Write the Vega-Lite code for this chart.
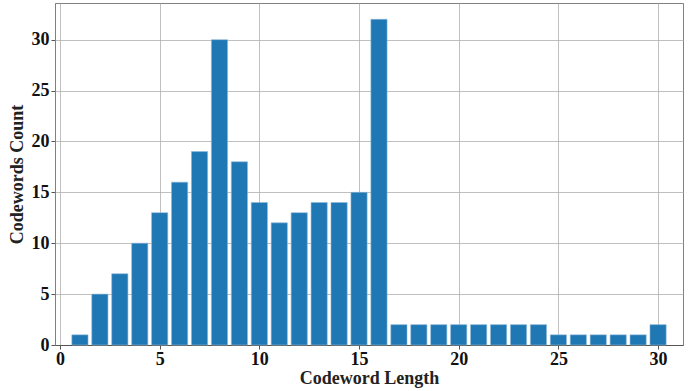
{
  "$schema": "https://vega.github.io/schema/vega-lite/v6.json",
  "width": 628,
  "height": 342,
  "padding": {"left": 55, "top": 3, "right": 16, "bottom": 46},
  "autosize": {"type": "none"},
  "background": "white",
  "config": {
    "view": {"stroke": "#808080", "strokeWidth": 1},
    "font": "Liberation Serif"
  },
  "data": {"values": [
    {"length": 1, "count": 1}, {"length": 2, "count": 5}, {"length": 3, "count": 7},
    {"length": 4, "count": 10}, {"length": 5, "count": 13}, {"length": 6, "count": 16},
    {"length": 7, "count": 19}, {"length": 8, "count": 30}, {"length": 9, "count": 18},
    {"length": 10, "count": 14}, {"length": 11, "count": 12}, {"length": 12, "count": 13},
    {"length": 13, "count": 14}, {"length": 14, "count": 14}, {"length": 15, "count": 15},
    {"length": 16, "count": 32}, {"length": 17, "count": 2}, {"length": 18, "count": 2},
    {"length": 19, "count": 2}, {"length": 20, "count": 2}, {"length": 21, "count": 2},
    {"length": 22, "count": 2}, {"length": 23, "count": 2}, {"length": 24, "count": 2},
    {"length": 25, "count": 1}, {"length": 26, "count": 1}, {"length": 27, "count": 1},
    {"length": 28, "count": 1}, {"length": 29, "count": 1}, {"length": 30, "count": 2}
  ]},
  "mark": {"type": "bar", "size": 16.2, "color": "#1f77b4", "stroke": "#8fbbd9", "strokeWidth": 0.6},
  "encoding": {
    "x": {
      "field": "length", "type": "quantitative",
      "scale": {"domain": [0, 31], "nice": false, "zero": false},
      "axis": {
        "title": "Codeword Length", "titleFont": "Liberation Serif", "titleFontSize": 18, "titleFontWeight": "bold", "titleColor": "#222",
        "titlePadding": 1,
        "values": [0, 5, 10, 15, 20, 25, 30], "format": "d",
        "labelFont": "Liberation Serif", "labelFontSize": 18, "labelFontWeight": "bold", "labelColor": "#111",
        "labelPadding": 1,
        "grid": true, "gridColor": "#b0b0b0", "gridWidth": 0.8,
        "domain": true, "domainColor": "#555", "tickColor": "#555", "tickSize": 4, "labelFlush": false
      }
    },
    "y": {
      "field": "count", "type": "quantitative",
      "scale": {"domain": [0, 33.6], "nice": false},
      "axis": {
        "title": "Codewords Count", "titleFont": "Liberation Serif", "titleFontSize": 18, "titleFontWeight": "bold", "titleColor": "#222",
        "titlePadding": 5,
        "values": [0, 5, 10, 15, 20, 25, 30], "format": "d",
        "labelFont": "Liberation Serif", "labelFontSize": 18, "labelFontWeight": "bold", "labelColor": "#111",
        "labelPadding": 2,
        "grid": true, "gridColor": "#b0b0b0", "gridWidth": 0.8,
        "domain": true, "domainColor": "#808080", "tickColor": "#555", "tickSize": 4
      }
    }
  }
}
